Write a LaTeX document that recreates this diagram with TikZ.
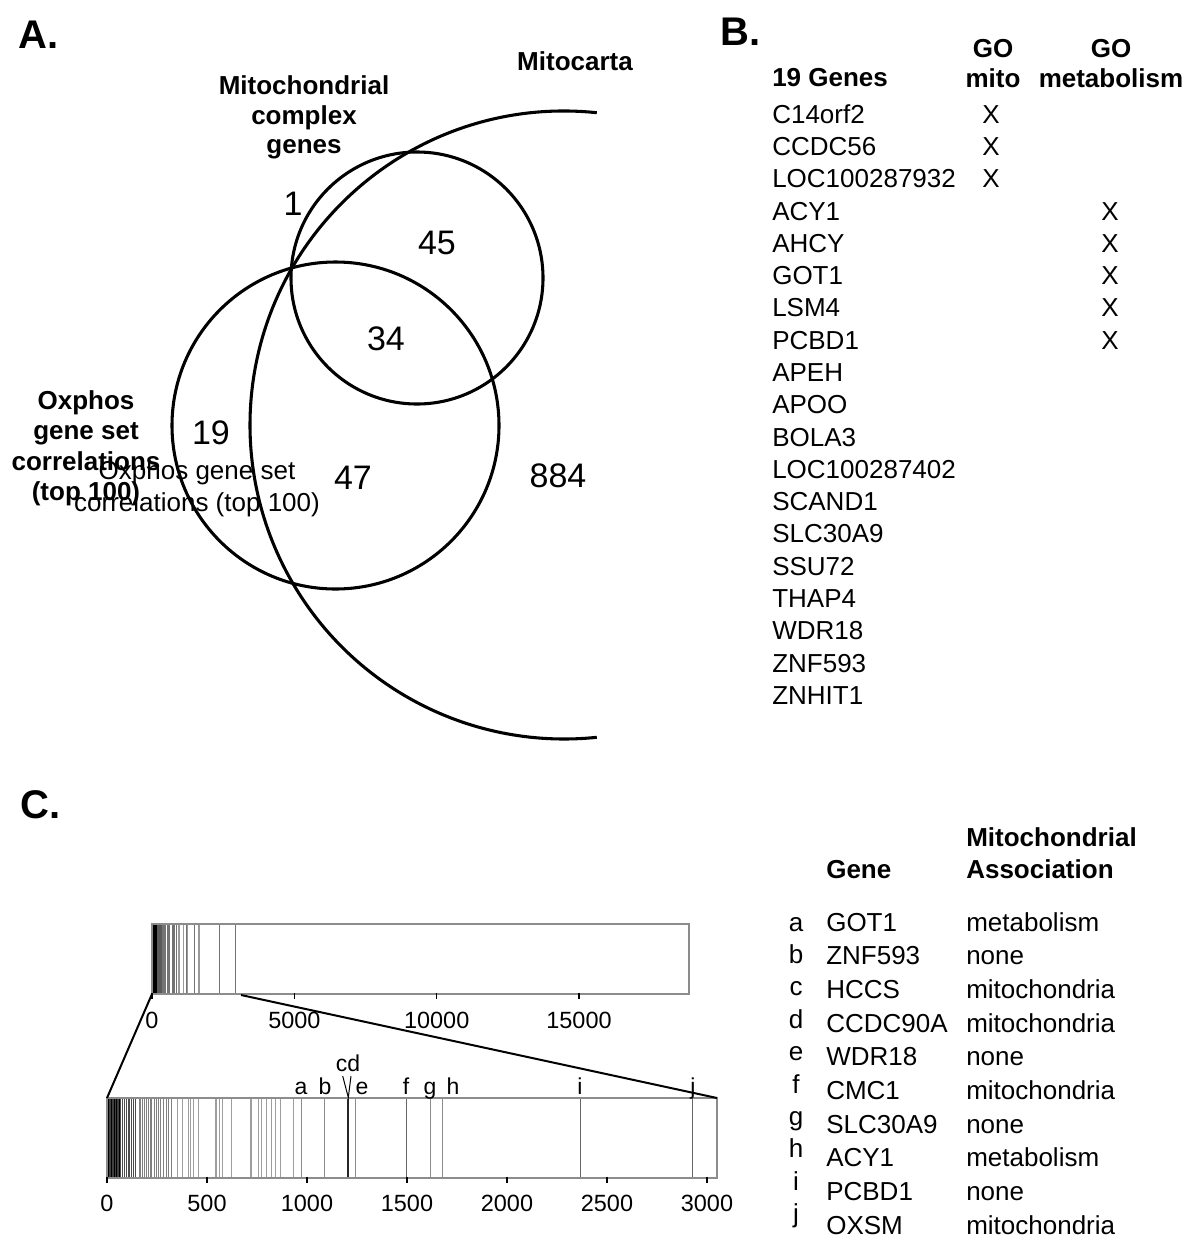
\documentclass[tikz,border=0pt]{standalone}
\usepackage{fontspec}
\setmainfont{Liberation Sans}
\begin{document}
\begin{tikzpicture}[x=0.75pt,y=0.75pt,
  lbl/.style={inner sep=0pt, anchor=base, font=\fontsize{19.5pt}{23pt}\selectfont},
  lblw/.style={lbl, anchor=base west},
  blbl/.style={lbl, font=\fontsize{19.5pt}{23pt}\selectfont\bfseries},
  blblw/.style={blbl, anchor=base west},
  num/.style={inner sep=0pt, font=\fontsize{25.5pt}{30pt}\selectfont},
  panel/.style={inner sep=0pt, anchor=base west, font=\fontsize{30pt}{36pt}\selectfont\bfseries},
  venn/.style={line width=2.3pt},
  tickl/.style={inner sep=0pt, anchor=base, font=\fontsize{17.6pt}{21pt}\selectfont},
  genemark/.style={inner sep=0pt, anchor=base, font=\fontsize{17.25pt}{20pt}\selectfont},
  tickmk/.style={line width=1.1pt, black},
  zoomline/.style={line width=1.5pt, black},
  outline/.style={draw=black!45, line width=0.9pt}
]
\useasboundingbox (0,0) rectangle (1200,-1250);
\fill[white] (0,0) rectangle (1200,-1250);

% ---------------- Panel A ----------------
\node[panel] (pA) at (18,-48) {A.};
\draw[venn] (417,-278) circle[radius=126];
\draw[venn] (335.5,-425.5) circle[radius=163.5];
\draw[venn] (564,-425) ++(84:314) arc[start angle=84, end angle=276, radius=314];

\node[blbl] (mc) at (575,-70) {Mitocarta};
\node[blbl] (cx1) at (304,-94) {Mitochondrial};
\node[blbl] (cx2) at (304,-124) {complex};
\node[blbl] (cx3) at (304,-153.5) {genes};
\node[blbl] (ox1) at (86,-409) {Oxphos};
\node[blbl] (ox2) at (86,-439) {gene set};
\node[blbl] (ox3) at (86,-470) {correlations};
\node[blbl] (ox4) at (86,-500) {(top 100)};
\node[lbl] (on1) at (197,-479) {Oxphos gene set};
\node[lbl] (on2) at (197,-511) {correlations (top 100)};

\node[num] (n1) at (293,-204) {1};
\node[num] (n45) at (437,-243) {45};
\node[num] (n34) at (386,-339) {34};
\node[num] (n19) at (211,-433) {19};
\node[num] (n47) at (353,-478) {47};
\node[num] (n884) at (558,-476) {884};

% ---------------- Panel B ----------------
\node[panel] (pB) at (720,-45) {B.};
\node[blblw] (hg) at (772,-86) {19 Genes};
\node[blbl] (hm1) at (993,-57) {GO};
\node[blbl] (hm2) at (993,-87) {mito};
\node[blbl] (hb1) at (1111,-57) {GO};
\node[blbl] (hb2) at (1111,-87) {metabolism};
\foreach \g [count=\k from 0] in {C14orf2,CCDC56,LOC100287932,ACY1,AHCY,GOT1,LSM4,PCBD1,APEH,APOO,BOLA3,LOC100287402,SCAND1,SLC30A9,SSU72,THAP4,WDR18,ZNF593,ZNHIT1}
  \node[lblw] (g\k) at (772,{-123.3-32.28*\k}) {\g};
\foreach \k in {0,1,2}
  \node[lbl] (xm\k) at (991,{-123.3-32.28*\k}) {X};
\foreach \k in {3,...,7}
  \node[lbl] (xb\k) at (1110,{-123.3-32.28*\k}) {X};

% ---------------- Panel C ----------------
\node[panel] (pC) at (20,-818) {C.};

% top bar (scale 0.02847 px per gene)
\foreach \v in {0,10,...,170}
  \draw[black, line width=0.75pt] ({152+0.02847*\v},-924) -- ({152+0.02847*\v},-994);
\foreach \v in {190,215,245,275,305,335}
  \draw[black!65, line width=0.75pt] ({152+0.02847*\v},-924) -- ({152+0.02847*\v},-994);
\foreach \v in {378,407,432,457,548,577,623,715,757,795,843,865}
  \draw[black!55, line width=0.75pt] ({152+0.02847*\v},-924) -- ({152+0.02847*\v},-994);
\foreach \v in {932,971,1090,1242,1618,1677}
  \draw[black!40, line width=0.75pt] ({152+0.02847*\v},-924) -- ({152+0.02847*\v},-994);
\foreach \v in {1205,1497,2370,2930}
  \draw[black!55, line width=0.75pt] ({152+0.02847*\v},-924) -- ({152+0.02847*\v},-994);
\draw[outline] (152,-924) rectangle (689,-994);
\foreach \t/\x in {0/152,5000/294.35,10000/436.7,15000/579}{
  \draw[tickmk] (\x,-993) -- (\x,-999);
  \node[tickl] (tt\t) at (\x,-1028) {\t};
}

% lower bar (scale 0.2 px per gene)
\foreach \v in {0,4,...,64}
  \draw[black, line width=0.55pt] ({107+0.2*\v},-1098) -- ({107+0.2*\v},-1178);
\foreach \v in {2,10,18,26,34,42,50,58}
  \draw[black!75, line width=0.5pt] ({107+0.2*\v},-1098) -- ({107+0.2*\v},-1178);
\foreach \v in {68,78,87,95,107,112,123,132,140}
  \draw[black!70, line width=0.75pt] ({107+0.2*\v},-1098) -- ({107+0.2*\v},-1178);
\foreach \v in {162,168,177,187,198,207,215,223,235,245,257,268,282,295,307,323}
  \draw[black!50, line width=0.75pt] ({107+0.2*\v},-1098) -- ({107+0.2*\v},-1178);
\foreach \v in {352,378,407,418,432,457,540,548,560,577,623,715,723,757,770,795,823,843,865,932}
  \draw[black!38, line width=0.75pt] ({107+0.2*\v},-1098) -- ({107+0.2*\v},-1178);
\foreach \v in {971,1090,1242,1618,1677}
  \draw[black!45, line width=0.75pt] ({107+0.2*\v},-1098) -- ({107+0.2*\v},-1178);
\foreach \v in {1497,2370,2930}
  \draw[black!60, line width=0.75pt] ({107+0.2*\v},-1098) -- ({107+0.2*\v},-1178);
\foreach \v in {1204,1209}
  \draw[black!85, line width=0.75pt] ({107+0.2*\v},-1098) -- ({107+0.2*\v},-1178);
\draw[outline] (107,-1098) rectangle (717,-1178);
\foreach \t in {0,500,...,3000}{
  \draw[tickmk] ({107+0.2*\t},-1177) -- ({107+0.2*\t},-1183);
  \node[tickl] (tl\t) at ({107+0.2*\t},-1211.5) {\t};
}

% zoom connectors
\coordinate (zt1) at (152,-994);
\coordinate (zt2) at (241,-995);
\coordinate (zb1) at (107,-1098);
\coordinate (zb2) at (717,-1098);
\draw[zoomline] (zt1) -- (zb1);
\draw[zoomline] (zt2) -- (zb2);

% gene marks
\foreach \m/\x in {a/301,b/325,e/362,f/406,g/430,h/453,i/580,j/693}
  \node[genemark] (m\m) at (\x,-1094) {\m};
\node[genemark] (mcd) at (348,-1071) {cd};
\coordinate (vl) at (342.7,-1076);
\coordinate (vr) at (351,-1076);
\coordinate (vp) at (348.3,-1097.5);
\draw[black, line width=0.75pt] (vl) -- (vp) -- (vr);

% table in C
\node[blblw] (th1) at (966,-846) {Mitochondrial};
\node[blblw] (th2) at (966,-878) {Association};
\node[blblw] (th3) at (826,-878) {Gene};
\foreach \l/\g/\a [count=\k from 0] in {a/GOT1/metabolism,b/ZNF593/none,c/HCCS/mitochondria,d/CCDC90A/mitochondria,e/WDR18/none,f/CMC1/mitochondria,g/SLC30A9/none,h/ACY1/metabolism,i/PCBD1/none,j/OXSM/mitochondria}{
  \node[lbl] (tl\l) at (796,{-931-32.4*\k}) {\l};
  \node[lblw] (tg\l) at (826,{-931-33.7*\k}) {\g};
  \node[lblw] (ta\l) at (966,{-931-33.7*\k}) {\a};
}
\end{tikzpicture}
\end{document}
